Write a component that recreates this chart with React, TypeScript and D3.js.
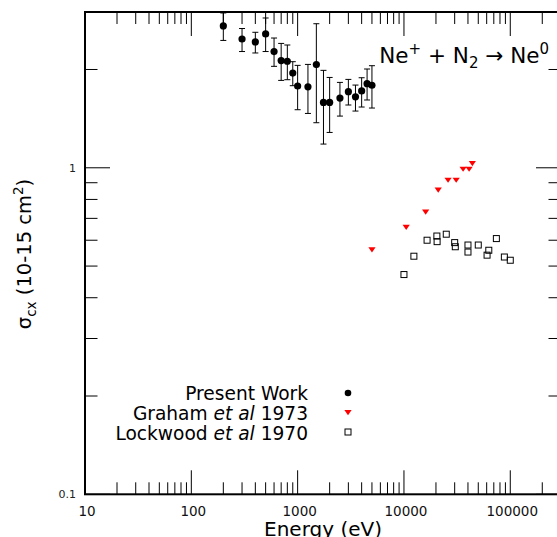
import React from "react";
import * as d3 from "d3";

const presentE = [200, 300, 400, 500, 600, 700, 800, 900, 1000, 1250, 1500, 1750, 2000, 2500, 3000, 3500, 4000, 4500, 5000];
const presentSigma = [2.72, 2.48, 2.43, 2.57, 2.27, 2.13, 2.12, 1.95, 1.78, 1.77, 2.07, 1.585, 1.585, 1.635, 1.71, 1.65, 1.72, 1.81, 1.79];
const presentLow = [2.455, 2.27, 2.247, 2.27, 2.045, 1.852, 1.861, 1.784, 1.506, 1.467, 1.374, 1.182, 1.283, 1.44, 1.557, 1.492, 1.535, 1.613, 1.524];
const presentHigh = [2.98, 2.67, 2.6, 2.876, 2.497, 2.404, 2.377, 2.113, 2.059, 2.073, 2.762, 1.988, 1.891, 1.826, 1.865, 1.792, 1.887, 2.007, 2.054];

const grahamE = [5000, 10500, 16000, 21000, 26000, 31000, 36000, 41000, 44000];
const grahamSigma = [0.561, 0.658, 0.733, 0.856, 0.917, 0.917, 0.991, 0.991, 1.031];

const lockwoodE = [10000, 12400, 16500, 20400, 20500, 25000, 30000, 30400, 40000, 40000, 50000, 62800, 60500, 74000, 88000, 100000];
const lockwoodSigma = [0.471, 0.536, 0.6, 0.618, 0.594, 0.626, 0.59, 0.573, 0.58, 0.552, 0.58, 0.559, 0.54, 0.607, 0.533, 0.521];

const xMajor = [10, 100, 1000, 10000, 100000];
const xMajorLabels = ["10", "100", "1000", "10000", "100000"];
const yMajor = [0.1, 1];
const yMajorLabels = ["0.1", "1"];

const legendLabels = ["Present Work", "Graham", "Lockwood"];
const legendYears = ["", "1973", "1970"];

const W = 557, H = 537;
const L = 85, R = 561, T = 12, B = 494.3;
const FONT = "DejaVu Sans, sans-serif";

export default function App() {
  const x = d3.scaleLog().domain([10, 3e5]).range([L, R]);
  const y = d3.scaleLog().domain([0.1, 3]).range([B, T]);

  const xMinor: number[] = [];
  for (let d = 10; d < 3e5; d *= 10) for (let k = 2; k <= 9; k++) if (d * k < 3e5) xMinor.push(d * k);
  const yMinor: number[] = [];
  for (let d = 0.1; d < 3; d *= 10) for (let k = 2; k <= 9; k++) if (d * k <= 3.0001) yMinor.push(d * k);

  const tri = (cx: number, cy: number) => `M${cx - 3.6},${cy - 2.4}L${cx + 3.6},${cy - 2.4}L${cx},${cy + 2.8}Z`;

  return (
    <svg width={W} height={H} style={{ position: "absolute", left: 0, top: 0, background: "#fff" }} fontFamily={FONT}>
      <rect x={0} y={0} width={W} height={H} fill="#fff" />
      {xMajor.map((v) => (
        <g key={"xM" + v}>
          <line x1={x(v)} x2={x(v)} y1={B} y2={B - 24} stroke="#000" strokeWidth={1} />
          <line x1={x(v)} x2={x(v)} y1={T} y2={T + 24} stroke="#000" strokeWidth={1} />
        </g>
      ))}
      {xMinor.map((v) => (
        <g key={"xm" + v}>
          <line x1={x(v)} x2={x(v)} y1={B} y2={B - 12} stroke="#000" strokeWidth={1} />
          <line x1={x(v)} x2={x(v)} y1={T} y2={T + 12} stroke="#000" strokeWidth={1} />
        </g>
      ))}
      {yMajor.map((v) => (
        <g key={"yM" + v}>
          <line x1={L} x2={L + 25} y1={y(v)} y2={y(v)} stroke="#000" strokeWidth={1} />
          <line x1={R} x2={R - 25} y1={y(v)} y2={y(v)} stroke="#000" strokeWidth={1} />
        </g>
      ))}
      {yMinor.map((v) => (
        <g key={"ym" + v}>
          <line x1={L} x2={L + 12.5} y1={y(v)} y2={y(v)} stroke="#000" strokeWidth={1} />
          <line x1={R} x2={R - 12.5} y1={y(v)} y2={y(v)} stroke="#000" strokeWidth={1} />
        </g>
      ))}
      <rect x={L} y={T} width={R - L} height={B - T} fill="none" stroke="#000" strokeWidth={2} />
      {xMajor.map((v, i) => (
        <text key={"xl" + v} x={x(v) + 2} y={516} textAnchor="middle" fontSize={13.5} fill="#111">
          {xMajorLabels[i]}
        </text>
      ))}
      {yMajor.map((v, i) => (
        <text key={"yl" + v} x={76} y={y(v) + 4} textAnchor="end" fontSize={11} fill="#222">
          {yMajorLabels[i]}
        </text>
      ))}
      <text x={(L + R) / 2} y={535.5} textAnchor="middle" fontSize={20} fill="#000">
        Energy (eV)
      </text>
      <text transform={`translate(30.5,254) rotate(-90)`} textAnchor="middle" fontSize={19.5} fill="#000">
        σ<tspan fontSize={13.5} dy={5}>cx</tspan>
        <tspan dy={-5}> (10-15 cm</tspan>
        <tspan fontSize={13.5} dy={-8}>2</tspan>
        <tspan dy={8}>)</tspan>
      </text>
      <text x={549} y={63} textAnchor="end" fontSize={21.5} fill="#000">
        Ne<tspan fontSize={15} dy={-9}>+</tspan>
        <tspan dy={9}> + N</tspan>
        <tspan fontSize={15} dy={5}>2</tspan>
        <tspan dy={-5}> → Ne</tspan>
        <tspan fontSize={15} dy={-9}>0</tspan>
      </text>
      {presentE.map((e, i) => (
        <g key={"p" + i}>
          <line x1={x(e)} x2={x(e)} y1={y(presentLow[i])} y2={y(presentHigh[i])} stroke="#000" strokeWidth={1} />
          <line x1={x(e) - 3} x2={x(e) + 3} y1={y(presentLow[i])} y2={y(presentLow[i])} stroke="#000" strokeWidth={1} />
          <line x1={x(e) - 3} x2={x(e) + 3} y1={y(presentHigh[i])} y2={y(presentHigh[i])} stroke="#000" strokeWidth={1} />
          <circle cx={x(e)} cy={y(presentSigma[i])} r={3.6} fill="#000" />
        </g>
      ))}
      {grahamE.map((e, i) => (
        <path key={"g" + i} d={tri(x(e), y(grahamSigma[i]))} fill="#f00" />
      ))}
      {lockwoodE.map((e, i) => (
        <rect key={"l" + i} x={x(e) - 3} y={y(lockwoodSigma[i]) - 3} width={6} height={6} fill="none" stroke="#000" strokeWidth={1} />
      ))}
      {legendLabels.map((lab, i) => (
        <text key={"lg" + i} x={308} y={399.5 + i * 20} textAnchor="end" fontSize={18.6} fill="#000">
          {lab}
          {i > 0 ? (
            <>
              {" "}
              <tspan fontStyle="italic">et al</tspan> {legendYears[i]}
            </>
          ) : null}
        </text>
      ))}
      <circle cx={348} cy={393} r={3.3} fill="#000" />
      <path d={tri(348, 412.5)} fill="#f00" />
      <rect x={345} y={429} width={6} height={6} fill="none" stroke="#000" strokeWidth={1} />
    </svg>
  );
}
